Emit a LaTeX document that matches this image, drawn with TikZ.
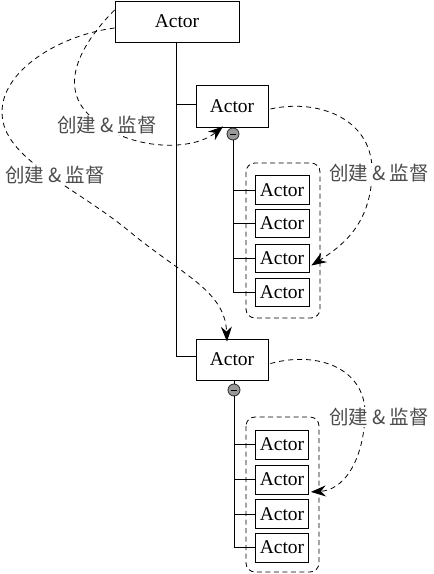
\documentclass[tikz,border=0pt]{standalone}
\usepackage{fontspec}
\setmainfont{Liberation Serif}
\newfontfamily\cjk{Noto Sans CJK SC}
\usetikzlibrary{arrows.meta}
\begin{document}
\begin{tikzpicture}[x=1pt,y=-1pt,line width=0.8pt,
  actorbox/.style={draw,inner sep=0pt,font=\fontsize{19.5}{21}\selectfont},
  dotnode/.style={circle,draw=black!85,fill=black!40,minimum size=12pt,inner sep=0pt},
  groupbox/.style={draw,dash pattern=on 5pt off 3.5pt,rounded corners=9pt},
  flow/.style={draw,dash pattern=on 5pt off 4pt,-{Stealth[length=15pt,width=11pt,inset=5pt]}},
  lbl/.style={fill=white,inner sep=1pt,text=black!70,font=\cjk\fontsize{19.5}{21}\selectfont}]
\useasboundingbox (0,0) rectangle (434,574);

% group frames
\draw[groupbox] (246,163) rectangle (320,318);
\draw[groupbox] (246,417) rectangle (319,572);

% actors
\node[actorbox,minimum width=124pt,minimum height=41pt] (root) at (177,21.5) {Actor};
\node[actorbox,minimum width=72pt,minimum height=42pt] (mid1) at (232,106) {Actor};
\node[actorbox,minimum width=72pt,minimum height=41pt] (mid2) at (232,359.5) {Actor};

\node[actorbox,minimum width=54pt,minimum height=28.5pt] (s11) at (282,190) {Actor};
\node[actorbox,minimum width=54pt,minimum height=28.5pt] (s12) at (282,223.5) {Actor};
\node[actorbox,minimum width=54pt,minimum height=28.5pt] (s13) at (282,258.5) {Actor};
\node[actorbox,minimum width=54pt,minimum height=28.5pt] (s14) at (282,292.5) {Actor};

\node[actorbox,minimum width=53pt,minimum height=29pt] (s21) at (282,444.5) {Actor};
\node[actorbox,minimum width=53pt,minimum height=29pt] (s22) at (282,479.5) {Actor};
\node[actorbox,minimum width=53pt,minimum height=29pt] (s23) at (282,514) {Actor};
\node[actorbox,minimum width=53pt,minimum height=29pt] (s24) at (282,547.5) {Actor};

% supervisor dots
\node[dotnode] (c1) at (233,134) {};
\node[dotnode] (c2) at (234,390) {};
\draw[line width=0.7pt] ([xshift=-3pt]c1.center) -- ([xshift=3pt]c1.center);
\draw[line width=0.7pt] ([xshift=-3pt]c2.center) -- ([xshift=3pt]c2.center);

% tree lines
\draw ([xshift=-1pt]root.south) |- ([yshift=3pt]mid2.west);
\draw ([xshift=-1pt,yshift=2pt]root.south |- mid1.west) -- ([yshift=2pt]mid1.west);
\draw ([xshift=1pt]mid1.south) -- (c1.north);
\draw ([xshift=2pt]mid2.south) -- (c2.north);
\draw (c1.south) |- (s14.west);
\draw (c1.south |- s11.west) -- (s11.west);
\draw (c1.south |- s12.west) -- (s12.west);
\draw (c1.south |- s13.west) -- (s13.west);
\draw (c2.south) |- (s24.west);
\draw (c2.south |- s21.west) -- (s21.west);
\draw (c2.south |- s22.west) -- (s22.west);
\draw (c2.south |- s23.west) -- (s23.west);

% create & supervise arrows
\path[flow] ([yshift=-6.5pt]root.west) .. controls (60,35) and (2,70) .. (2,112)
   .. controls (2,160) and (75,185) .. (135,236)
   .. controls (185,276) and (225,292) .. ([xshift=-5pt,yshift=-3pt]mid2.north);
\path[flow] ([yshift=11.5pt]root.west) .. controls (75,50) and (58,92) .. (95,120)
   .. controls (130,150) and (192,152) .. ([xshift=-9pt,yshift=1pt]mid1.south);
\path[flow] ([xshift=2pt,yshift=-3pt]mid1.east) .. controls (320,98) and (375,120) .. (372,175)
   .. controls (370,225) and (342,246) .. ([xshift=2pt,yshift=-7pt]s13.east);
\path[flow] ([xshift=2pt,yshift=-4pt]mid2.east) .. controls (320,350) and (368,370) .. (365,418)
   .. controls (362,465) and (342,490) .. ([xshift=2pt,yshift=2.5pt]s22.south east);

% labels
\node[lbl] (l1) at (55,175) {创建 \& 监督};
\node[lbl] (l2) at (107,125) {创建 \& 监督};
\node[lbl] (l3) at (379,173) {创建 \& 监督};
\node[lbl] (l4) at (379,417) {创建 \& 监督};
\end{tikzpicture}
\end{document}
